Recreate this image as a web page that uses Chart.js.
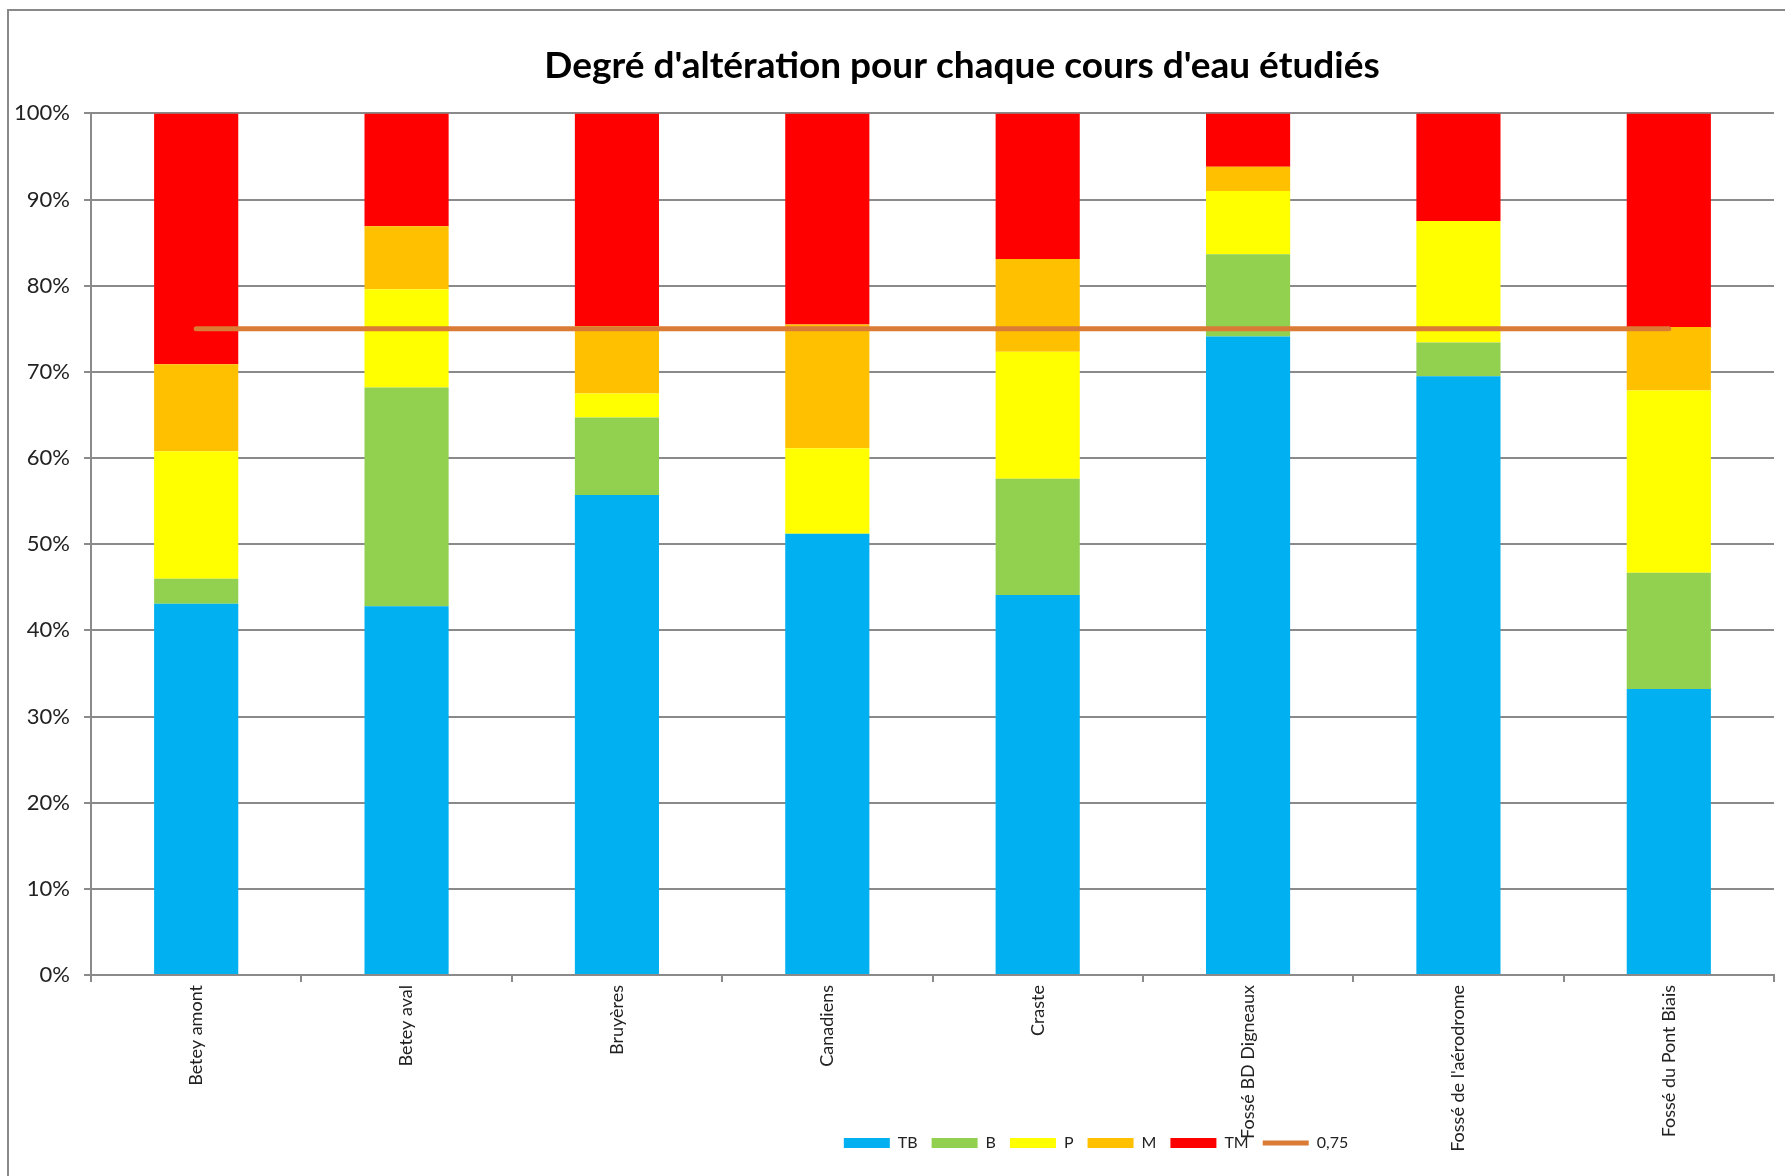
<!DOCTYPE html>
<html>
<head>
<meta charset="utf-8">
<script src="https://cdn.jsdelivr.net/npm/chart.js@4.4.0/dist/chart.umd.min.js"></script>
<style>
  html, body { margin: 0; padding: 0; background: #fff; overflow: hidden; }
  #frame { position: absolute; left: 7px; top: 9px; width: 1900px; height: 1300px; border: 2px solid #898989; }
  #wrap { position: absolute; left: 0; top: 0; width: 1785px; height: 1176px; }
</style>
</head>
<body>
<div id="frame"></div>
<div id="wrap"><canvas id="alterationChart" width="1785" height="1176"></canvas></div>
<script>
const ctx = document.getElementById('alterationChart').getContext('2d');

// Cours d'eau (categories)
const coursEau = ['Betey amont', 'Betey aval', 'Bruyères', 'Canadiens', 'Craste',
    'Fossé BD Digneaux', "Fossé de l'aérodrome", 'Fossé du Pont Biais'];

// Share of each alteration class, in %
const tb = [43.1, 42.8, 55.7, 51.2, 44.1, 74.1, 69.5, 33.2];
const b = [2.9, 25.4, 9.0, 0, 13.5, 9.55, 3.9, 13.5];
const p = [14.8, 11.4, 2.8, 9.95, 14.75, 7.35, 14.1, 21.15];
const m = [10.1, 7.3, 7.8, 14.35, 10.75, 2.8, 0, 7.35];
const tm = [29.1, 13.1, 24.7, 24.5, 16.9, 6.2, 12.5, 24.8];

// Threshold line (0,75)
const seuil = [75, 75, 75, 75, 75, 75, 75, 75];

const barSet = (label, values, color) => ({
    type: 'bar',
    label: label,
    data: values,
    backgroundColor: color,
    borderWidth: 0,
    pointStyle: 'rect',
    stack: 'classes',
    order: 1,
    barPercentage: 0.4,
    categoryPercentage: 1.0
});

// Moves title and legend to where Excel put them, and lets the long
// category labels run past the x axis box (the legend sits over them)
const placeBoxes = {
    id: 'placeBoxes',
    afterLayout(chart) {
        const t = chart.titleBlock;
        t.left = 9;
        t.right = 1915;
        const lg = chart.legend;
        const w = lg.right - lg.left;
        lg.left = 1096 - w / 2;
        lg.right = 1096 + w / 2;
        chart.scales.x.bottom = chart.height;
    }
};

new Chart(ctx, {
    data: {
        labels: coursEau,
        datasets: [
            barSet('TB', tb, '#00B0F0'),
            barSet('B', b, '#92D050'),
            barSet('P', p, '#FFFF00'),
            barSet('M', m, '#FFC000'),
            barSet('TM', tm, '#FF0000'),
            {
                type: 'line',
                label: '0,75',
                data: seuil,
                borderColor: '#DA7B36',
                backgroundColor: '#DA7B36',
                borderWidth: 5,
                borderCapStyle: 'round',
                pointRadius: 0,
                pointStyle: 'line',
                stack: 'seuil',
                order: 0
            }
        ]
    },
    options: {
        responsive: false,
        animation: false,
        layout: { padding: { left: 0, right: 11, top: 0, bottom: 15 } },
        scales: {
            x: {
                stacked: true,
                offset: true,
                grid: { drawOnChartArea: false, drawTicks: true, tickLength: 7, color: '#8a8a8a', lineWidth: 2, offset: true },
                border: { color: '#8a8a8a', width: 2 },
                ticks: {
                    autoSkip: false,
                    minRotation: 90,
                    maxRotation: 90,
                    padding: 3,
                    color: '#222',
                    font: { family: 'Lato', size: 18 }
                },
                afterFit(scale) { scale.height = 146; }
            },
            y: {
                stacked: true,
                min: 0,
                max: 100,
                ticks: {
                    stepSize: 10,
                    padding: 14,
                    color: '#222',
                    font: { family: 'Lato', size: 22 },
                    callback: (v) => v + '%'
                },
                grid: { color: '#8a8a8a', lineWidth: 2, tickLength: 7 },
                border: { color: '#8a8a8a', width: 2 },
                afterFit(scale) { scale.width = 91; }
            }
        },
        plugins: {
            title: {
                display: true,
                text: "Degré d'altération pour chaque cours d'eau étudiés",
                color: '#000',
                font: { family: 'Lato', size: 37, weight: 'bold', lineHeight: 1.2 },
                padding: { top: 44, bottom: 25 }
            },
            legend: {
                position: 'bottom',
                labels: {
                    usePointStyle: true,
                    pointStyleWidth: 46,
                    boxHeight: 10,
                    padding: 14,
                    color: '#222',
                    font: { family: 'Lato', size: 16 },
                    sort: (a, c) => a.datasetIndex - c.datasetIndex
                }
            },
            tooltip: { enabled: false }
        }
    },
    plugins: [placeBoxes]
});
</script>
</body>
</html>
